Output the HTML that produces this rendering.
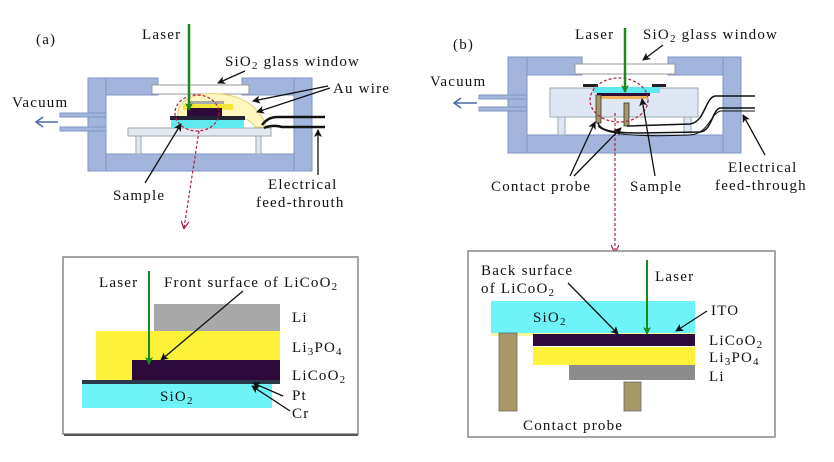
<!DOCTYPE html>
<html><head><meta charset="utf-8"><style>
html,body{margin:0;padding:0;background:#fff;}
svg{display:block;}
text{font-family:"Liberation Serif",serif;font-size:15px;letter-spacing:1.2px;fill:#111;}
</style></head><body>
<svg width="834" height="462" viewBox="0 0 834 462" xmlns="http://www.w3.org/2000/svg">
<defs>
<marker id="ah" markerWidth="8" markerHeight="8" refX="7" refY="4" orient="auto" markerUnits="userSpaceOnUse"><path d="M0,0 L8,4 L0,8 L2,4 Z" fill="#111"/></marker>
<marker id="ag" markerWidth="8" markerHeight="8" refX="7" refY="4" orient="auto" markerUnits="userSpaceOnUse"><path d="M0,0 L8,4 L0,8 L2,4 Z" fill="#1a8a1a"/></marker>
<marker id="ar" markerWidth="8" markerHeight="8" refX="7" refY="4" orient="auto" markerUnits="userSpaceOnUse"><path d="M0,0 L8,4 L0,8" fill="none" stroke="#b02040" stroke-width="1.2"/></marker>
</defs>

<!-- ===== Panel (a) chamber ===== -->
<g fill="#a3b5dc" stroke="#7f95c4" stroke-width="1">
<rect x="88" y="78" width="18" height="93"/>
<rect x="106" y="78" width="52" height="17"/>
<rect x="242" y="78" width="52" height="17"/>
<rect x="294" y="78" width="18" height="93"/>
<rect x="106" y="154" width="188" height="17"/>
<rect x="60" y="113" width="46" height="4"/>
<rect x="60" y="127" width="46" height="4"/>
</g>
<line x1="58" y1="122" x2="36" y2="122" stroke="#4a6aa8" stroke-width="1.5"/>
<path d="M43,117 L36,122 L43,127" fill="none" stroke="#4a6aa8" stroke-width="1.5"/>
<rect x="152" y="85" width="97" height="9" fill="#fff" stroke="#999"/>
<rect x="128" y="128" width="143" height="8" fill="#e4e8f0" stroke="#9aa"/>
<rect x="136" y="136" width="5" height="18" fill="#e4e8f0" stroke="#9aa"/>
<rect x="256" y="136" width="5" height="18" fill="#e4e8f0" stroke="#9aa"/>
<path d="M178,118 C175,100 195,92 220,94 C245,96 262,110 266,127 L255,127 C250,118 240,116 225,118 Z" fill="#fff7c0" stroke="#e8d070"/>
<rect x="190" y="101" width="34" height="8" fill="#aaa"/>
<rect x="183" y="104" width="50" height="6" fill="#f5e63a"/>
<rect x="187" y="108" width="35" height="8" fill="#2e0a3a"/>
<rect x="170" y="116" width="75" height="4" fill="#223"/>
<rect x="171" y="120" width="73" height="8" fill="#5ee8f0"/>
<ellipse cx="197" cy="113" rx="22" ry="18" fill="none" stroke="#b02040" stroke-dasharray="3,2" stroke-width="1.2"/>
<line x1="199" y1="131" x2="184" y2="228" stroke="#b02040" stroke-dasharray="3,2" stroke-width="1.2" marker-end="url(#ar)"/>
<path d="M262,125 C266,120 270,117 278,117 L325,117" fill="none" stroke="#111" stroke-width="2.5"/>
<path d="M264,128 C268,126 275,125 282,127 L325,127" fill="none" stroke="#111" stroke-width="2.5"/>
<line x1="189" y1="24" x2="189" y2="110" stroke="#1a8a1a" stroke-width="2.5" marker-end="url(#ag)"/>
<text x="142" y="39">Laser</text>
<text x="36" y="44">(a)</text>
<text x="225" y="66">SiO<tspan font-size="11" dy="3">2</tspan><tspan dy="-3"> glass window</tspan></text>
<line x1="245" y1="71" x2="218" y2="83" stroke="#111" stroke-width="1.3" marker-end="url(#ah)"/>
<text x="333" y="93">Au wire</text>
<line x1="328" y1="86" x2="253" y2="101" stroke="#111" stroke-width="1.3" marker-end="url(#ah)"/>
<line x1="330" y1="88" x2="257" y2="112" stroke="#111" stroke-width="1.3" marker-end="url(#ah)"/>
<text x="12" y="107">Vacuum</text>
<text x="113" y="200">Sample</text>
<line x1="145" y1="183" x2="181" y2="124" stroke="#111" stroke-width="1.3" marker-end="url(#ah)"/>
<text x="268" y="189">Electrical</text>
<text x="256" y="207">feed-throuth</text>
<line x1="318" y1="175" x2="318" y2="130" stroke="#111" stroke-width="1.3" marker-end="url(#ah)"/>

<!-- ===== Panel (b) chamber ===== -->
<g fill="#a3b5dc" stroke="#7f95c4" stroke-width="1">
<rect x="508" y="57" width="19" height="96"/>
<rect x="527" y="57" width="55" height="18"/>
<rect x="668" y="57" width="55" height="18"/>
<rect x="723" y="57" width="18" height="96"/>
<rect x="527" y="135" width="196" height="18"/>
<rect x="479" y="95" width="48" height="4"/>
<rect x="479" y="107" width="48" height="4"/>
</g>
<line x1="477" y1="103" x2="454" y2="103" stroke="#4a6aa8" stroke-width="1.5"/>
<path d="M461,98 L454,103 L461,108" fill="none" stroke="#4a6aa8" stroke-width="1.5"/>
<rect x="575" y="64" width="100" height="10" fill="#fff" stroke="#999"/>
<rect x="550" y="88" width="148" height="29" fill="#dfe6f4" stroke="#9aa"/>
<rect x="558" y="117" width="7" height="18" fill="#dfe6f4" stroke="#9aa"/>
<rect x="684" y="117" width="7" height="18" fill="#dfe6f4" stroke="#9aa"/>
<rect x="583" y="84" width="15" height="3" fill="#222"/>
<rect x="652" y="84" width="14" height="3" fill="#222"/>
<rect x="593" y="87" width="67" height="6" fill="#5ee8f0"/>
<rect x="597" y="93" width="53" height="3" fill="#2e0a3a"/>
<rect x="600" y="96" width="48" height="3" fill="#f0b060"/>
<rect x="596" y="95" width="5" height="28" fill="#a89868" stroke="#333" stroke-width="0.8"/>
<rect x="624" y="103" width="5" height="23" fill="#a89868" stroke="#333" stroke-width="0.8"/>
<path d="M598,123 C600,130 610,133 640,133 L700,132 C712,131 712,110 720,108 L755,108" fill="none" stroke="#111" stroke-width="1.5"/>
<path d="M627,126 L690,124 C705,122 705,98 715,96 L755,96" fill="none" stroke="#111" stroke-width="1.5"/>
<path d="M598,126 C605,135 640,137 690,135 C708,134 710,115 720,111 L755,111" fill="none" stroke="#111" stroke-width="1"/>
<ellipse cx="619" cy="100" rx="29" ry="22" fill="none" stroke="#b02040" stroke-dasharray="3,2" stroke-width="1.2"/>
<line x1="615" y1="113" x2="615" y2="252" stroke="#b02040" stroke-dasharray="3,2" stroke-width="1.2" marker-end="url(#ar)"/>
<line x1="625" y1="28" x2="625" y2="92" stroke="#1a8a1a" stroke-width="2.5" marker-end="url(#ag)"/>
<text x="575" y="39">Laser</text>
<text x="453" y="49">(b)</text>
<text x="643" y="39">SiO<tspan font-size="11" dy="3">2</tspan><tspan dy="-3"> glass window</tspan></text>
<line x1="663" y1="45" x2="643" y2="60" stroke="#111" stroke-width="1.3" marker-end="url(#ah)"/>
<text x="430" y="86">Vacuum</text>
<text x="491" y="191">Contact probe</text>
<line x1="570" y1="176" x2="595" y2="122" stroke="#111" stroke-width="1.3" marker-end="url(#ah)"/>
<line x1="574" y1="176" x2="621" y2="128" stroke="#111" stroke-width="1.3" marker-end="url(#ah)"/>
<text x="630" y="191">Sample</text>
<line x1="655" y1="176" x2="642" y2="99" stroke="#111" stroke-width="1.3" marker-end="url(#ah)"/>
<text x="728" y="172">Electrical</text>
<text x="715" y="190">feed-through</text>
<line x1="765" y1="155" x2="743" y2="115" stroke="#111" stroke-width="1.3" marker-end="url(#ah)"/>

<!-- ===== Lower box (a) ===== -->
<rect x="63" y="257" width="295" height="177" fill="#fff" stroke="#888" stroke-width="1.5"/>
<line x1="64" y1="435" x2="358" y2="435" stroke="#555" stroke-width="2"/>
<rect x="154" y="304" width="126" height="27" fill="#a8a8a8"/>
<rect x="96" y="331" width="184" height="49" fill="#fdf23a"/>
<rect x="132" y="360" width="148" height="20" fill="#2e0a3a"/>
<rect x="82" y="380" width="198" height="4" fill="#2a3a4a"/>
<rect x="82" y="384" width="190" height="24" fill="#6ef4f8"/>
<line x1="149" y1="271" x2="149" y2="364" stroke="#1a8a1a" stroke-width="2" marker-end="url(#ag)"/>
<text x="99" y="287">Laser</text>
<text x="164" y="287">Front surface of LiCoO<tspan font-size="11" dy="3">2</tspan></text>
<line x1="243" y1="291" x2="161" y2="360" stroke="#111" stroke-width="1.3" marker-end="url(#ah)"/>
<text x="292" y="322">Li</text>
<text x="292" y="352">Li<tspan font-size="11" dy="3">3</tspan><tspan dy="-3">PO</tspan><tspan font-size="11" dy="3">4</tspan></text>
<text x="292" y="380">LiCoO<tspan font-size="11" dy="3">2</tspan></text>
<text x="292" y="400">Pt</text>
<text x="292" y="418">Cr</text>
<text x="160" y="401">SiO<tspan font-size="11" dy="3">2</tspan></text>
<line x1="283" y1="396" x2="253" y2="383" stroke="#111" stroke-width="1.3" marker-end="url(#ah)"/>
<line x1="290" y1="411" x2="252" y2="386" stroke="#111" stroke-width="1.3" marker-end="url(#ah)"/>

<!-- ===== Lower box (b) ===== -->
<rect x="468" y="251" width="307" height="186" fill="#fff" stroke="#888" stroke-width="1.5"/>
<rect x="491" y="301" width="204" height="32" fill="#6ef4f8"/>
<rect x="491" y="333" width="204" height="3" fill="#fbf6a0"/>
<rect x="533" y="334" width="162" height="12" fill="#2e0a3a"/>
<rect x="533" y="347" width="162" height="18" fill="#fdf23a"/>
<rect x="569" y="365" width="126" height="15" fill="#8c8c8c"/>
<rect x="499" y="333" width="18" height="78" fill="#a89868" stroke="#666" stroke-width="0.8"/>
<rect x="624" y="382" width="17" height="29" fill="#a89868" stroke="#666" stroke-width="0.8"/>
<line x1="647" y1="260" x2="647" y2="334" stroke="#1a8a1a" stroke-width="2" marker-end="url(#ag)"/>
<text x="481" y="275">Back surface</text>
<text x="481" y="293">of LiCoO<tspan font-size="11" dy="3">2</tspan></text>
<line x1="568" y1="283" x2="618" y2="334" stroke="#111" stroke-width="1.3" marker-end="url(#ah)"/>
<text x="655" y="281">Laser</text>
<text x="533" y="322">SiO<tspan font-size="11" dy="3">2</tspan></text>
<text x="711" y="315">ITO</text>
<line x1="707" y1="311" x2="676" y2="331" stroke="#111" stroke-width="1.3" marker-end="url(#ah)"/>
<text x="709" y="345">LiCoO<tspan font-size="11" dy="3">2</tspan></text>
<text x="709" y="362">Li<tspan font-size="11" dy="3">3</tspan><tspan dy="-3">PO</tspan><tspan font-size="11" dy="3">4</tspan></text>
<text x="709" y="381">Li</text>
<text x="523" y="430">Contact probe</text>
</svg>
</body></html>
